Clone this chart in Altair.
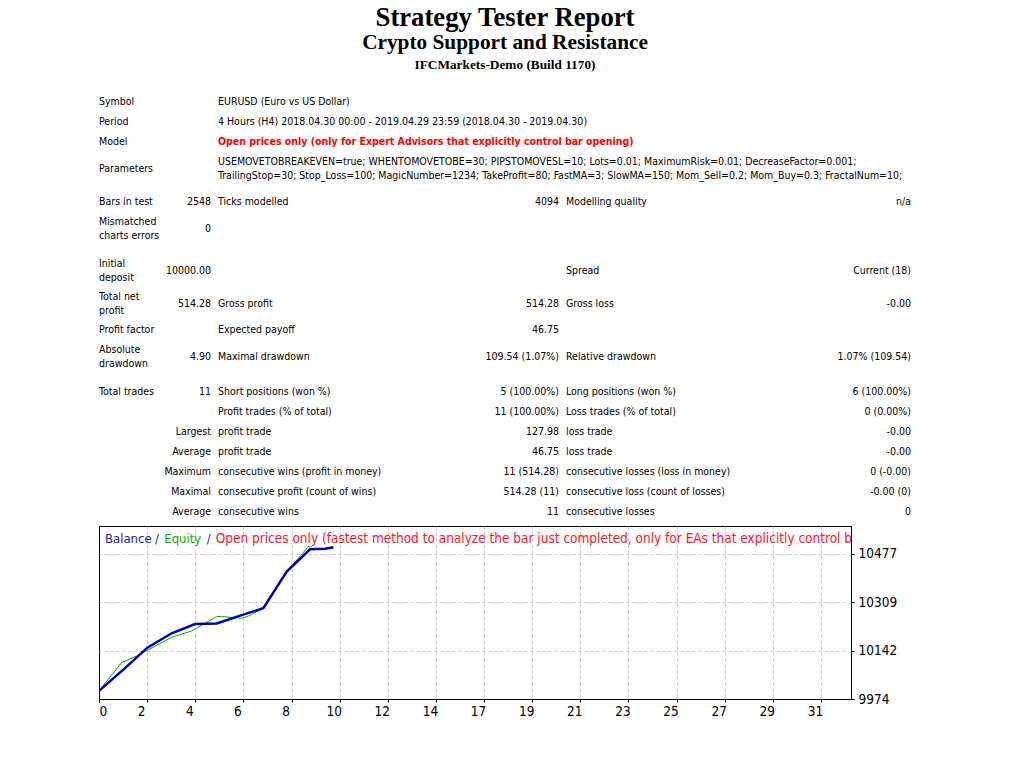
#%%
import pandas as pd
import altair as alt

#%%
# report header
report_title = "Strategy Tester Report"
expert_name = "Crypto Support and Resistance"
server_build = "IFCMarkets-Demo (Build 1170)"

model_text = "Open prices only (only for Expert Advisors that explicitly control bar opening)"
params_text = ("USEMOVETOBREAKEVEN=true; WHENTOMOVETOBE=30; PIPSTOMOVESL=10; Lots=0.01; MaximumRisk=0.01; DecreaseFactor=0.001;\n"
               "TrailingStop=30; Stop_Loss=100; MagicNumber=1234; TakeProfit=80; FastMA=3; SlowMA=150; Mom_Sell=0.2; Mom_Buy=0.3; FractalNum=10;")

# six cells per row, None = empty spacer row
table_rows = [
    ["Symbol", "", "EURUSD (Euro vs US Dollar)", "", "", ""],
    ["Period", "", "4 Hours (H4) 2018.04.30 00:00 - 2019.04.29 23:59 (2018.04.30 - 2019.04.30)", "", "", ""],
    ["Model", "", model_text, "", "", ""],
    ["Parameters", "", params_text, "", "", ""],
    None,
    ["Bars in test", "2548", "Ticks modelled", "4094", "Modelling quality", "n/a"],
    ["Mismatched\ncharts errors", "0", "", "", "", ""],
    None,
    ["Initial\ndeposit", "10000.00", "", "", "Spread", "Current (18)"],
    ["Total net\nprofit", "514.28", "Gross profit", "514.28", "Gross loss", "-0.00"],
    ["Profit factor", "", "Expected payoff", "46.75", "", ""],
    ["Absolute\ndrawdown", "4.90", "Maximal drawdown", "109.54 (1.07%)", "Relative drawdown", "1.07% (109.54)"],
    None,
    ["Total trades", "11", "Short positions (won %)", "5 (100.00%)", "Long positions (won %)", "6 (100.00%)"],
    ["", "", "Profit trades (% of total)", "11 (100.00%)", "Loss trades (% of total)", "0 (0.00%)"],
    ["", "Largest", "profit trade", "127.98", "loss trade", "-0.00"],
    ["", "Average", "profit trade", "46.75", "loss trade", "-0.00"],
    ["", "Maximum", "consecutive wins (profit in money)", "11 (514.28)", "consecutive losses (loss in money)", "0 (-0.00)"],
    ["", "Maximal", "consecutive profit (count of wins)", "514.28 (11)", "consecutive loss (count of losses)", "-0.00 (0)"],
    ["", "Average", "consecutive wins", "11", "consecutive losses", "0"],
]

#%%
# balance / equity graph
balance_x = [0, 1, 2.01, 3.02, 3.99, 4.89, 5.9, 6.83, 7.8, 8.77, 9.4, 9.74]
balance_y = [10002, 10075, 10152, 10202, 10234, 10236, 10264, 10289, 10416, 10493, 10495, 10500]

equity_x = [0, 0.94, 1.57, 1.78, 2.81, 3.02, 3.85, 4.89, 5.1, 5.93, 6.21, 6.83, 7.8, 8.7, 8.84]
equity_y = [10002, 10100, 10123, 10133, 10179, 10188, 10210, 10260, 10260, 10254, 10262, 10289, 10416, 10502, 10502]

x_ticks = list(range(0, 31, 2))
y_ticks = [9974, 10142, 10309, 10477]

legend_parts = ["Balance", "/", "Equity", "/",
                "Open prices only (fastest method to analyze the bar just completed, only for EAs that explicitly control bar opening)"]
legend_colors = ["#1a1aa6", "#1a1aa6", "#00b000", "#1a1aa6", "#ff1428"]

#%%
# layout
FONT = "DejaVu Sans Condensed, DejaVu Sans"
SERIF = "Liberation Serif"
W, TABLE_H = 1008, 518
LINE_H = 14
col_x = [91, 203, 210, 551, 558, 903]
col_align = ["left", "right", "left", "right", "left", "right"]
spacer_h = [7, 9, 9]

cells = []
top = 84
gap = iter(spacer_h)
for r in table_rows:
    if r is None:
        top += next(gap)
        continue
    lines = max(c.count("\n") + 1 for c in r)
    h = 20 if lines == 1 else 33
    for i, c in enumerate(r):
        if c:
            n = c.count("\n")
            cells.append({"text": c, "x": col_x[i], "y": top + h / 2 - n * LINE_H / 2,
                          "align": col_align[i], "red": c == model_text})
    top += h
cells = pd.DataFrame(cells)

xs = alt.Scale(domain=[0, W], nice=False, zero=False)
ys = alt.Scale(domain=[0, TABLE_H], nice=False, zero=False, reverse=True)

base = alt.Chart(cells).encode(
    x=alt.X("x:Q", scale=xs, axis=None),
    y=alt.Y("y:Q", scale=ys, axis=None),
    text="text:N")

txt = dict(baseline="middle", font=FONT, fontSize=10.5, lineBreak="\n", lineHeight=LINE_H)
left = base.transform_filter("datum.align == 'left' && !datum.red").mark_text(align="left", color="black", **txt)
right = base.transform_filter("datum.align == 'right'").mark_text(align="right", color="black", **txt)
red = base.transform_filter("datum.red").mark_text(align="left", color="#ff0000", fontWeight="bold", **txt)

def title_text(s, size, y):
    return (alt.Chart(pd.DataFrame({"t": [s]}))
            .mark_text(font=SERIF, fontSize=size, fontWeight="bold", color="black",
                       align="center", baseline="alphabetic", clip=True)
            .encode(x=alt.value(497), y=alt.value(y), text="t:N"))

table = alt.layer(
    left, right, red,
    title_text(report_title, 26.7, 18),
    title_text(expert_name, 21.3, 41.3),
    title_text(server_build, 13.3, 61),
).properties(width=W, height=TABLE_H)

#%%
# graph
grid_color = {"condition": {"test": "datum.value === 0", "value": "black"}, "value": "#c8c8c8"}
gx = alt.X("x:Q", title=None,
           scale=alt.Scale(domain=[0, 31.25], nice=False, zero=False),
           axis=alt.Axis(values=x_ticks, grid=True, gridColor=grid_color, gridDash=[3, 3],
                         labelExpr="datum.value <= 14 ? datum.label : format(datum.value + 1, 'd')",
                         labelOffset={"condition": {"test": "datum.value === 0", "value": 0}, "value": -6},
                         domainColor="black", tickColor="black", tickSize=3, labelPadding=2,
                         labelFont=FONT, labelFontSize=13.5, labelColor="black"))
gy = alt.Y("y:Q", title=None,
           scale=alt.Scale(domain=[9974, 10574], nice=False, zero=False),
           axis=alt.Axis(orient="right", values=y_ticks, grid=True, gridColor="#c8c8c8", gridDash=[3, 3],
                         format="d", domainColor="black", tickColor="black", tickSize=3, labelPadding=4,
                         labelFont=FONT, labelFontSize=13.5, labelColor="black", labelBaseline="middle"))

equity = alt.Chart(pd.DataFrame({"x": equity_x, "y": equity_y})).mark_line(
    color="#00b000", strokeWidth=1, clip=True).encode(x=gx, y=gy)
balance = alt.Chart(pd.DataFrame({"x": balance_x, "y": balance_y})).mark_line(
    color="#0000a8", strokeWidth=2.5, clip=True).encode(x="x:Q", y="y:Q")

legend_x = [6, 56, 65.3, 107.7, 116.7]
legend_size = [13, 13, 13, 13, 13.5]
legend = [
    alt.Chart(pd.DataFrame({"t": [p]}))
    .mark_text(align="left", baseline="alphabetic", font=FONT, fontSize=fs, color=c, clip=True)
    .encode(x=alt.value(lx), y=alt.value(17), text="t:N")
    for p, c, lx, fs in zip(legend_parts, legend_colors, legend_x, legend_size)
]

graph = alt.layer(equity, balance, *legend).properties(
    width=752, height=173, view=alt.ViewBackground(stroke="black", strokeWidth=1))

spacer = alt.Chart(pd.DataFrame({"a": [0]})).mark_point(opacity=0).properties(width=91, height=173)

chart = alt.vconcat(
    table,
    alt.hconcat(spacer, graph, spacing=0, bounds="flush"),
    spacing=0,
    bounds="flush",
).properties(padding=0).configure_view(strokeWidth=0)

chart.save("out.html", embed_options={"renderer": "svg", "actions": False})
